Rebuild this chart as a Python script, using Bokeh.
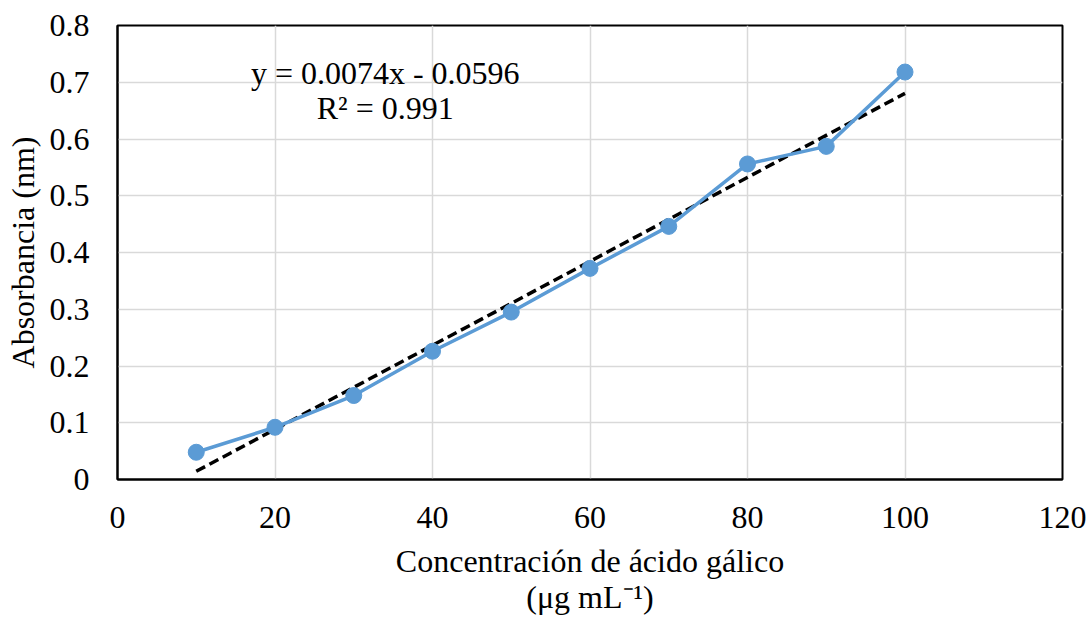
from bokeh.plotting import figure
from bokeh.models import Range1d, FixedTicker, NumeralTickFormatter
from bokeh.core.properties import value
from bokeh.embed import file_html
from bokeh.resources import INLINE

# Calibration data: gallic acid concentration vs absorbance
concentration = [10, 20, 30, 40, 50, 60, 70, 80, 90, 100]
absorbance = [0.048, 0.092, 0.148, 0.226, 0.295, 0.372, 0.446, 0.556, 0.587, 0.718]

# Linear fit reported on the chart
slope = 0.0074
intercept = -0.0596
r_squared = 0.991

x_ticks = [0, 20, 40, 60, 80, 100, 120]
y_ticks = [0, 0.1, 0.2, 0.3, 0.4, 0.5, 0.6, 0.7, 0.8]

FONT = "Liberation Serif"
FONT_SIZE = "32px"

p = figure(
    width=1092, height=618,
    output_backend="svg", toolbar_location=None,
    x_range=Range1d(0, 120), y_range=Range1d(0, 0.8),
    min_border_left=117, min_border_right=30,
    min_border_top=25, min_border_bottom=139,
)
p.background_fill_color = "white"
p.border_fill_color = "white"
p.outline_line_color = "black"
p.outline_line_width = 2

# Grid
p.xgrid.ticker = FixedTicker(ticks=x_ticks)
p.ygrid.ticker = FixedTicker(ticks=y_ticks)
for g in (p.xgrid, p.ygrid):
    g.grid_line_color = "#d9d9d9"
    g.grid_line_width = 1.5

# Axes
p.xaxis.ticker = FixedTicker(ticks=x_ticks)
p.yaxis.ticker = FixedTicker(ticks=y_ticks)
p.yaxis.formatter = NumeralTickFormatter(format="0.[0]")
for ax in (p.xaxis, p.yaxis):
    ax.axis_line_color = "black"
    ax.axis_line_width = 2
    ax.major_tick_line_color = None
    ax.minor_tick_line_color = None
    ax.major_label_text_font = FONT
    ax.major_label_text_font_size = FONT_SIZE
    ax.major_label_text_color = "black"
    ax.axis_label_text_font = FONT
    ax.axis_label_text_font_size = FONT_SIZE
    ax.axis_label_text_font_style = "normal"
    ax.axis_label_text_color = "black"
    ax.axis_label_text_line_height = 1.0

p.xaxis.major_label_standoff = 21
p.yaxis.major_label_standoff = 22
p.xaxis.axis_label = "Concentración de ácido gálico\n(μg mL⁻¹)"
p.xaxis.axis_label_standoff = 12
p.yaxis.axis_label = "Absorbancia (nm)"
p.yaxis.axis_label_standoff = 6

# Fitted trend line
fit_x = [concentration[0], concentration[-1]]
fit_y = [slope * v + intercept for v in fit_x]
p.line(fit_x, fit_y, line_color="black", line_width=3.5, line_dash="10 5")

# Measured series
p.line(concentration, absorbance, line_color="#5B9BD5", line_width=3.5)
p.scatter(concentration, absorbance, size=16, fill_color="#5B9BD5",
          line_color="#5B9BD5")

# Regression equation label
eq_text = [f"y = {slope}x - {abs(intercept)}", f"R² = {r_squared}"]
p.text(x=[34, 34], y=[0.717, 0.655], text=eq_text,
       text_font=value(FONT), text_font_size=FONT_SIZE,
       text_align="center", text_baseline="middle", text_color="black")

open("out.html", "w").write(file_html(p, INLINE))
